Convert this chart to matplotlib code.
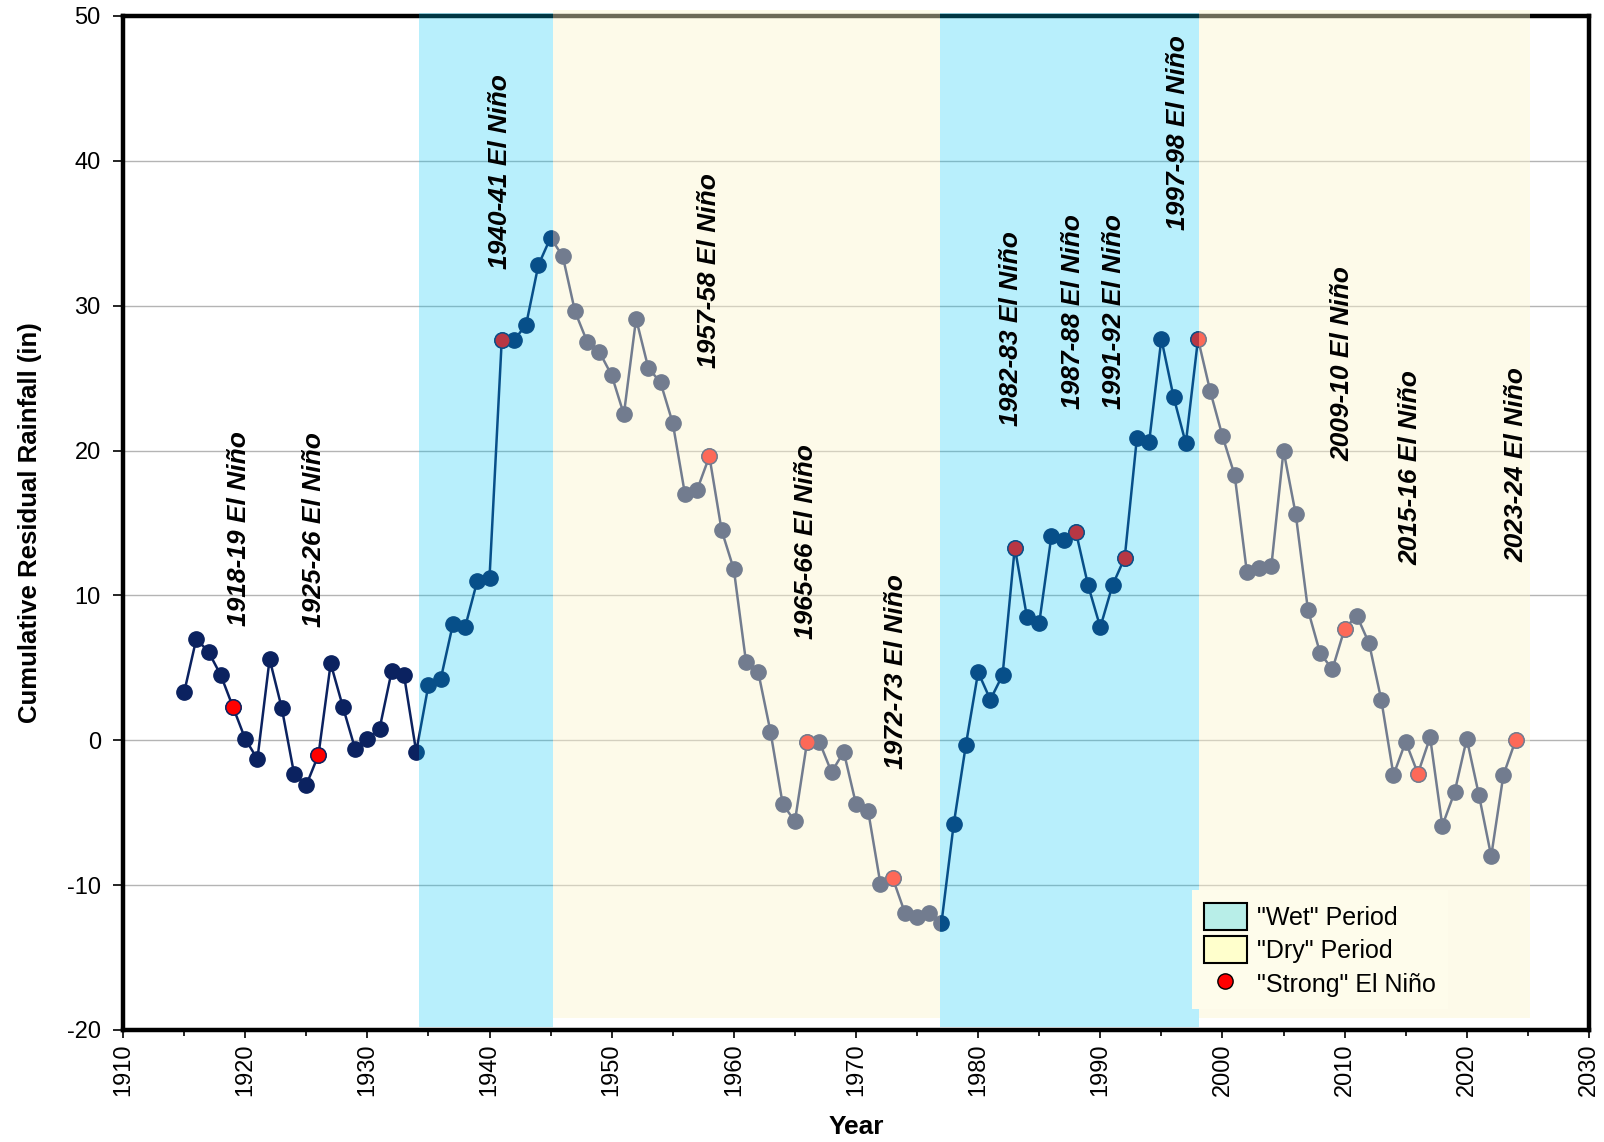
import numpy as np
import matplotlib
matplotlib.use("Agg")
from matplotlib import pyplot as plt
from matplotlib.lines import Line2D
from matplotlib.patches import Patch

plt.rcParams["font.family"] = ["Liberation Sans", "DejaVu Sans"]
plt.rcParams["axes.unicode_minus"] = False

years = np.arange(1915, 2025)
resid = [
    3.3, 7.0, 6.1, 4.5, 2.3, 0.1, -1.3, 5.6, 2.2, -2.3,
    -3.1, -1.0, 5.3, 2.3, -0.6, 0.1, 0.8, 4.8, 4.5, -0.8,
    3.8, 4.2, 8.0, 7.8, 11.0, 11.2, 27.6, 27.6, 28.7, 32.8,
    34.7, 33.4, 29.6, 27.5, 26.8, 25.2, 22.5, 29.1, 25.7, 24.7,
    21.9, 17.0, 17.3, 19.6, 14.5, 11.8, 5.4, 4.7, 0.6, -4.4,
    -5.6, -0.1, -0.1, -2.2, -0.8, -4.4, -4.9, -9.9, -9.5, -11.9,
    -12.2, -11.9, -12.6, -5.8, -0.3, 4.7, 2.8, 4.5, 13.3, 8.5,
    8.1, 14.1, 13.8, 14.4, 10.7, 7.8, 10.7, 12.6, 20.9, 20.6,
    27.7, 23.7, 20.5, 27.7, 24.1, 21.0, 18.3, 11.6, 11.9, 12.0,
    20.0, 15.6, 9.0, 6.0, 4.9, 7.7, 8.6, 6.7, 2.8, -2.4,
    -0.1, -2.3, 0.2, -5.9, -3.6, 0.1, -3.8, -8.0, -2.4, 0.0,
]
strong_years = [1919, 1926, 1941, 1958, 1966, 1973, 1983, 1988, 1992,
                1998, 2010, 2016, 2024]

wet_periods = [(1934.25, 1945.2), (1976.9, 1998.07)]
dry_periods = [(1945.2, 1976.9), (1998.07, 2025.15)]

# El Nino labels: text, x position (year), y of the text foot
nino_labels = ["1918-19", "1925-26", "1940-41", "1957-58", "1965-66", "1972-73",
               "1982-83", "1987-88", "1991-92", "1997-98", "2009-10", "2015-16",
               "2023-24"]
nino_x = [1919.5, 1925.6, 1940.9, 1958.0, 1965.9, 1973.3, 1982.7, 1987.8,
          1991.1, 1996.4, 2009.8, 2015.4, 2024.1]
nino_y = [7.9, 7.8, 32.5, 25.7, 7.0, -2.0, 21.7, 22.9, 22.9, 35.2, 19.3,
          12.1, 12.3]

navy = "#0B2260"
wet_col = (0 / 255, 198 / 255, 245 / 255)
dry_col = (252 / 255, 245 / 255, 206 / 255)

fig = plt.figure(figsize=(16.04, 11.42), dpi=100)
ax = fig.add_axes([0.0767, 0.0981, 0.9139, 0.8879])

resid = np.array(resid)
ax.plot(years, resid, color=navy, lw=1.8, marker="o", ms=11,
        mfc=navy, mec=navy, zorder=3)
strong = np.isin(years, strong_years)
ax.plot(years[strong], resid[strong], ls="none", marker="o", ms=11,
        mfc="red", mec=navy, mew=1.0, zorder=4)

# shaded periods drawn over the series
for x0, x1 in wet_periods:
    ax.axvspan(x0, x1, ymin=0.003, ymax=1.003, color=wet_col, alpha=0.28,
               lw=0, zorder=5, clip_on=False)
for x0, x1 in dry_periods:
    ax.axvspan(x0, x1, ymin=0.012, ymax=1.006, color=dry_col, alpha=0.43,
               lw=0, zorder=5, clip_on=False)

for lab, x, y in zip(nino_labels, nino_x, nino_y):
    ax.text(x, y, lab + " El Niño", rotation=90, ha="center", va="bottom",
            fontsize=19, fontweight="bold", style="italic", zorder=6)

ax.set_xlim(1910, 2030)
ax.set_ylim(-20, 50)
ax.set_xticks(np.arange(1910, 2031, 10))
ax.set_xticks(np.arange(1915, 2030, 10), minor=True)
ax.set_yticks(np.arange(-20, 51, 10))
ax.tick_params(axis="x", which="major", labelsize=17, rotation=90,
               length=6, width=1.2, direction="out")
ax.tick_params(axis="x", which="minor", length=4, width=1.2, direction="out")
ax.tick_params(axis="y", labelsize=17, length=7, width=1.2, direction="out",
               pad=9)
ax.grid(axis="y", color="#B4B4B4", lw=1.0, zorder=0)
ax.set_axisbelow(True)
for sp in ax.spines.values():
    sp.set_linewidth(3.2)
    sp.set_color("black")

ax.set_xlabel("Year", fontsize=19, fontweight="bold", labelpad=14)
ax.set_ylabel("Cumulative Residual Rainfall (in)", fontsize=18.5,
              fontweight="bold", labelpad=18)

handles = [
    Patch(facecolor="#B8EEE8", edgecolor="black", lw=1.5, label='"Wet" Period'),
    Patch(facecolor="#FFFFCC", edgecolor="black", lw=1.5, label='"Dry" Period'),
    Line2D([0], [0], ls="none", marker="o", ms=11, mfc="red", mec="black",
           mew=1.0, label='"Strong" El Niño'),
]
leg = ax.legend(handles=handles, loc="upper left", bbox_to_anchor=(0.729, 0.138),
                borderaxespad=0, fontsize=18, frameon=True, fancybox=False,
                handlelength=1.7, handleheight=1.3, handletextpad=0.4,
                labelspacing=0.25, borderpad=0.5)
leg.get_frame().set_facecolor("#FEFCEB")
leg.get_frame().set_edgecolor("none")
leg.get_frame().set_alpha(1.0)
leg.set_zorder(10)

fig.savefig("out.png", dpi=100)
